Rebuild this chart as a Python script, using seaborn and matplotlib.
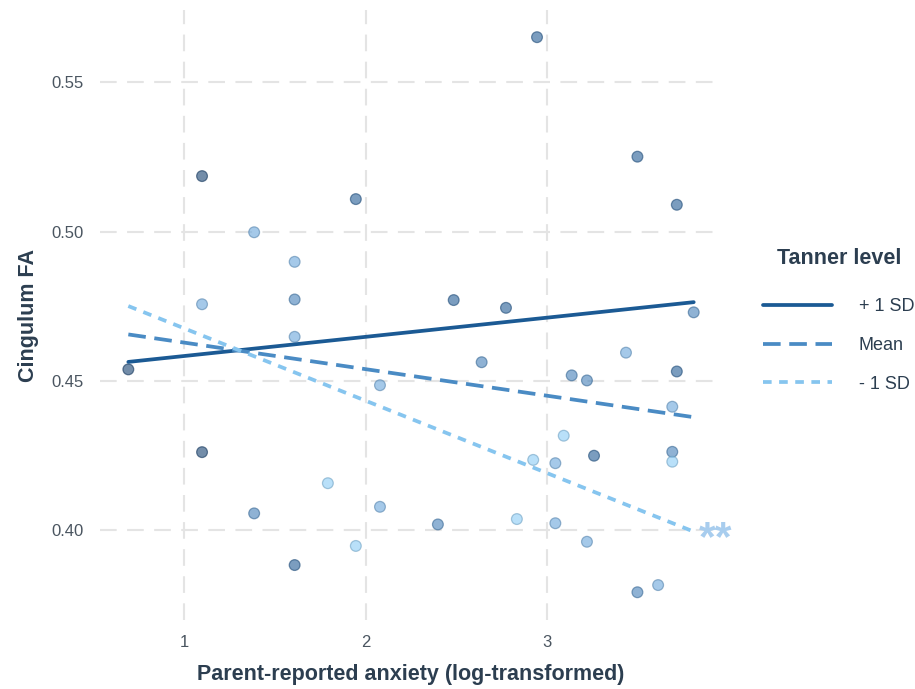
import pandas as pd
import numpy as np
import matplotlib.pyplot as plt
import seaborn as sns

sns.set_theme(style="white")
plt.rcParams['font.family'] = ['Liberation Sans', 'DejaVu Sans']


# data

anxiety = [1.099, 1.946, 1.386, 1.609, 1.609, 1.099, 2.944, 3.497, 3.714, 2.485,
           2.773, 3.807, 1.609, 0.693, 2.079, 1.099, 1.792, 1.386, 2.079, 1.946,
           1.609, 2.639, 3.434, 3.135, 3.219, 3.714, 3.689, 3.091, 2.923, 3.045,
           3.258, 3.689, 3.689, 2.398, 2.833, 3.045, 3.219, 3.497, 3.611]
cingulum_fa = [0.5186, 0.5109, 0.4998, 0.4899, 0.4773, 0.4757, 0.5651, 0.5251, 0.5090, 0.4771,
               0.4745, 0.4730, 0.4648, 0.4539, 0.4486, 0.4262, 0.4158, 0.4057, 0.4079, 0.3948,
               0.3884, 0.4563, 0.4595, 0.4519, 0.4502, 0.4532, 0.4414, 0.4317, 0.4236, 0.4225,
               0.4250, 0.4263, 0.4230, 0.4020, 0.4038, 0.4024, 0.3962, 0.3793, 0.3817]
# 1 = highest tanner (dark) ... 5 = lowest (light)
tanner_shade = [1, 2, 4, 4, 3, 4, 2, 2, 2, 2,
                2, 3, 4, 1, 4, 1, 5, 3, 4, 5,
                2, 3, 4, 3, 3, 2, 4, 5, 5, 4,
                2, 3, 5, 3, 5, 4, 4, 3, 4]

levels = ["+ 1 SD", "Mean", "- 1 SD"]
line_x = [0.693, 3.807]
line_y = {"+ 1 SD": [0.4564, 0.4764],
          "Mean": [0.4656, 0.4379],
          "- 1 SD": [0.4751, 0.3996]}

pts = pd.DataFrame({"x": anxiety, "y": cingulum_fa, "shade": tanner_shade})
lines = pd.DataFrame({
    "x": line_x * 3,
    "y": sum([line_y[k] for k in levels], []),
    "level": [k for k in levels for _ in line_x],
})

point_pal = {1: "#1d4775", 2: "#2a6198", 3: "#4a84bb", 4: "#6fa9dc", 5: "#8fcdf6"}
line_pal = {"+ 1 SD": "#1b5a94", "Mean": "#4a8bc4", "- 1 SD": "#86c5ef"}
line_dash = {"+ 1 SD": "", "Mean": (4.7, 2.3), "- 1 SD": (2.3, 2.0)}

text_col = "#2c3e50"
tick_col = "#4a5560"


# plot

fig = plt.figure(figsize=(9.15, 6.89), dpi=100)
ax = fig.add_axes([0.1093, 0.1001, 0.6800, 0.8854])

sns.scatterplot(data=pts, x="x", y="y", hue="shade", palette=point_pal,
                s=60, alpha=0.62, linewidth=0.9, legend=False, ax=ax, zorder=3)
# darker ring around the dots
fc = ax.collections[0].get_facecolors()
ec = fc.copy()
ec[:, :3] = ec[:, :3] * 0.8
ax.collections[0].set_edgecolors(ec)

sns.lineplot(data=lines, x="x", y="y", hue="level", style="level",
             palette=line_pal, dashes=line_dash, hue_order=levels, style_order=levels,
             linewidth=2.7, ax=ax, zorder=4)

ax.text(3.926, 0.3935, "**", ha="center", va="baseline", fontsize=31,
        fontweight="bold", color="#a8cdee")

ax.set_xlim(0.537, 3.964)
ax.set_ylim(0.370, 0.5742)
ax.set_xticks([1, 2, 3])
ax.set_yticks([0.40, 0.45, 0.50, 0.55])
ax.set_yticklabels(["0.40", "0.45", "0.50", "0.55"])

ax.grid(True, color="#e4e4e4", linestyle=(0, (8, 5)), linewidth=1.5)
ax.set_axisbelow(True)
for sp in ax.spines.values():
    sp.set_visible(False)
ax.tick_params(length=0, labelsize=12, labelcolor=tick_col)
ax.tick_params(axis="y", pad=12)
ax.tick_params(axis="x", pad=11)

ax.set_xlabel("Parent-reported anxiety (log-transformed)", fontsize=15.5,
              fontweight="bold", color=text_col, labelpad=10)
ax.set_ylabel("Cingulum FA", fontsize=15.5, fontweight="bold", color=text_col, labelpad=9)

handles, labels = ax.get_legend_handles_labels()
ax.get_legend().remove()
leg = fig.legend(handles, labels, loc="upper left", bbox_to_anchor=(0.834, 0.640),
                 frameon=False, fontsize=13, title="Tanner level",
                 handlelength=3.8, handletextpad=1.5, labelspacing=1.2,
                 borderpad=0, borderaxespad=0)
leg.get_title().set_fontsize(15.5)
leg.get_title().set_fontweight("bold")
leg.get_title().set_color(text_col)
leg._legend_box.sep = 21
for t in leg.get_texts():
    t.set_color(text_col)

plt.savefig("out.png", dpi=100)
